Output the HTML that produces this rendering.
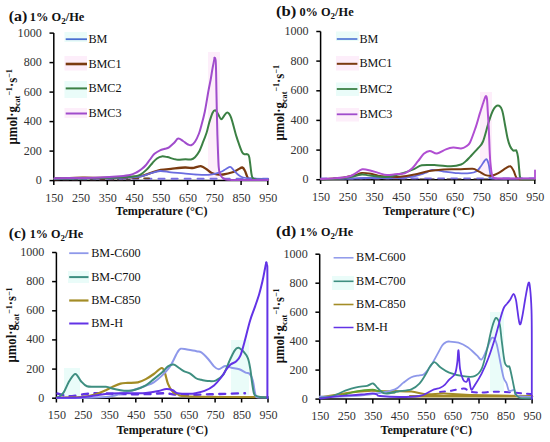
<!DOCTYPE html><html><head><meta charset="utf-8"><style>html,body{margin:0;padding:0;background:#fff;}svg{display:block;}</style></head><body>
<svg width="550" height="442" viewBox="0 0 550 442" font-family='&quot;Liberation Serif&quot;, serif'>
<rect width="550" height="442" fill="#fff"/>
<rect x="64.5" y="32.0" width="22.5" height="10.0" fill="#eafcf9"/>
<rect x="64.5" y="56.0" width="22.5" height="14.5" fill="#fdeefa"/>
<rect x="64.5" y="81.0" width="22.5" height="17.0" fill="#eafcf9"/>
<rect x="64.5" y="108.0" width="22.5" height="10.0" fill="#fdeefa"/>
<rect x="336.0" y="31.5" width="23.0" height="9.5" fill="#eafcf9"/>
<rect x="336.0" y="56.0" width="23.0" height="14.5" fill="#fdeefa"/>
<rect x="336.0" y="82.5" width="23.0" height="13.5" fill="#eafcf9"/>
<rect x="336.0" y="108.0" width="23.0" height="13.5" fill="#fdeefa"/>
<rect x="68.0" y="271.0" width="21.0" height="12.0" fill="#eafcf9"/>
<rect x="332.0" y="276.0" width="22.0" height="14.0" fill="#eafcf9"/>
<rect x="208.0" y="52.0" width="12.0" height="126.0" fill="#fdeefa"/>
<rect x="480.0" y="92.0" width="12.0" height="84.0" fill="#fdeefa"/>
<rect x="64.0" y="368.0" width="16.0" height="28.0" fill="#eafcf9"/>
<rect x="231.0" y="340.0" width="18.0" height="55.0" fill="#eafcf9"/>
<rect x="490.0" y="312.0" width="14.0" height="80.0" fill="#eafcf9"/>
<path d="M53.8,33.1 V181.3" stroke="#000" stroke-width="1.5" fill="none"/>
<path d="M53.1,180.6 H268.5" stroke="#000" stroke-width="1.5" fill="none"/>
<path d="M49.5,180.6 H53.8" stroke="#000" stroke-width="1.5"/>
<text x="41.8" y="184.0" font-size="12.8" text-anchor="end" fill="#333" textLength="6.05" lengthAdjust="spacingAndGlyphs">0</text>
<path d="M49.5,151.1 H53.8" stroke="#000" stroke-width="1.5"/>
<text x="41.8" y="154.5" font-size="12.8" text-anchor="end" fill="#333" textLength="18.15" lengthAdjust="spacingAndGlyphs">200</text>
<path d="M49.5,121.6 H53.8" stroke="#000" stroke-width="1.5"/>
<text x="41.8" y="125.0" font-size="12.8" text-anchor="end" fill="#333" textLength="18.15" lengthAdjust="spacingAndGlyphs">400</text>
<path d="M49.5,92.1 H53.8" stroke="#000" stroke-width="1.5"/>
<text x="41.8" y="95.5" font-size="12.8" text-anchor="end" fill="#333" textLength="18.15" lengthAdjust="spacingAndGlyphs">600</text>
<path d="M49.5,62.6 H53.8" stroke="#000" stroke-width="1.5"/>
<text x="41.8" y="66.0" font-size="12.8" text-anchor="end" fill="#333" textLength="18.15" lengthAdjust="spacingAndGlyphs">800</text>
<path d="M49.5,33.1 H53.8" stroke="#000" stroke-width="1.5"/>
<text x="41.8" y="36.5" font-size="12.8" text-anchor="end" fill="#333" textLength="24.20" lengthAdjust="spacingAndGlyphs">1000</text>
<path d="M53.8,180.6 V184.9" stroke="#000" stroke-width="1.5"/>
<text x="54.3" y="201.8" font-size="12.8" text-anchor="middle" fill="#333" textLength="18.15" lengthAdjust="spacingAndGlyphs">150</text>
<path d="M80.5,180.6 V184.9" stroke="#000" stroke-width="1.5"/>
<text x="81.0" y="201.8" font-size="12.8" text-anchor="middle" fill="#333" textLength="18.15" lengthAdjust="spacingAndGlyphs">250</text>
<path d="M107.3,180.6 V184.9" stroke="#000" stroke-width="1.5"/>
<text x="107.8" y="201.8" font-size="12.8" text-anchor="middle" fill="#333" textLength="18.15" lengthAdjust="spacingAndGlyphs">350</text>
<path d="M134.1,180.6 V184.9" stroke="#000" stroke-width="1.5"/>
<text x="134.6" y="201.8" font-size="12.8" text-anchor="middle" fill="#333" textLength="18.15" lengthAdjust="spacingAndGlyphs">450</text>
<path d="M160.8,180.6 V184.9" stroke="#000" stroke-width="1.5"/>
<text x="161.3" y="201.8" font-size="12.8" text-anchor="middle" fill="#333" textLength="18.15" lengthAdjust="spacingAndGlyphs">550</text>
<path d="M187.6,180.6 V184.9" stroke="#000" stroke-width="1.5"/>
<text x="188.1" y="201.8" font-size="12.8" text-anchor="middle" fill="#333" textLength="18.15" lengthAdjust="spacingAndGlyphs">650</text>
<path d="M214.3,180.6 V184.9" stroke="#000" stroke-width="1.5"/>
<text x="214.8" y="201.8" font-size="12.8" text-anchor="middle" fill="#333" textLength="18.15" lengthAdjust="spacingAndGlyphs">750</text>
<path d="M241.1,180.6 V184.9" stroke="#000" stroke-width="1.5"/>
<text x="241.6" y="201.8" font-size="12.8" text-anchor="middle" fill="#333" textLength="18.15" lengthAdjust="spacingAndGlyphs">850</text>
<path d="M267.8,180.6 V184.9" stroke="#000" stroke-width="1.5"/>
<text x="268.3" y="201.8" font-size="12.8" text-anchor="middle" fill="#333" textLength="18.15" lengthAdjust="spacingAndGlyphs">950</text>
<text x="115.5" y="214.5" font-size="12.5" font-weight="bold" fill="#111" textLength="92.1" lengthAdjust="spacingAndGlyphs">Temperature (°C)</text>
<text transform="translate(16.7,144.4) rotate(-90)" font-size="13.8" font-weight="bold" fill="#111" textLength="75.2" lengthAdjust="spacingAndGlyphs">μmol·g<tspan font-size="8.8" dy="3">cat</tspan><tspan font-size="8.8" dy="-7.8">−1</tspan><tspan dy="4.8">·s</tspan><tspan font-size="8.8" dy="-4.8">−1</tspan></text>
<text x="8.80" y="20.5" font-size="15.2" font-weight="bold" fill="#111" textLength="18.60" lengthAdjust="spacingAndGlyphs">(a)</text>
<text x="29.81" y="20.5" font-size="11.6" font-weight="bold" fill="#111" textLength="54.51" lengthAdjust="spacingAndGlyphs">1% O<tspan font-size="8.5" dy="3.0">2</tspan><tspan dy="-3.0">/He</tspan></text>
<path d="M320.6,31.5 V180.4" stroke="#000" stroke-width="1.5" fill="none"/>
<path d="M319.9,179.7 H535.5" stroke="#000" stroke-width="1.5" fill="none"/>
<path d="M316.3,179.7 H320.6" stroke="#000" stroke-width="1.5"/>
<text x="308.6" y="183.1" font-size="12.8" text-anchor="end" fill="#333" textLength="6.05" lengthAdjust="spacingAndGlyphs">0</text>
<path d="M316.3,150.1 H320.6" stroke="#000" stroke-width="1.5"/>
<text x="308.6" y="153.5" font-size="12.8" text-anchor="end" fill="#333" textLength="18.15" lengthAdjust="spacingAndGlyphs">200</text>
<path d="M316.3,120.4 H320.6" stroke="#000" stroke-width="1.5"/>
<text x="308.6" y="123.8" font-size="12.8" text-anchor="end" fill="#333" textLength="18.15" lengthAdjust="spacingAndGlyphs">400</text>
<path d="M316.3,90.8 H320.6" stroke="#000" stroke-width="1.5"/>
<text x="308.6" y="94.2" font-size="12.8" text-anchor="end" fill="#333" textLength="18.15" lengthAdjust="spacingAndGlyphs">600</text>
<path d="M316.3,61.1 H320.6" stroke="#000" stroke-width="1.5"/>
<text x="308.6" y="64.5" font-size="12.8" text-anchor="end" fill="#333" textLength="18.15" lengthAdjust="spacingAndGlyphs">800</text>
<path d="M316.3,31.5 H320.6" stroke="#000" stroke-width="1.5"/>
<text x="308.6" y="34.9" font-size="12.8" text-anchor="end" fill="#333" textLength="24.20" lengthAdjust="spacingAndGlyphs">1000</text>
<path d="M320.6,179.7 V184.0" stroke="#000" stroke-width="1.5"/>
<text x="321.1" y="201.0" font-size="12.8" text-anchor="middle" fill="#333" textLength="18.15" lengthAdjust="spacingAndGlyphs">150</text>
<path d="M347.4,179.7 V184.0" stroke="#000" stroke-width="1.5"/>
<text x="347.9" y="201.0" font-size="12.8" text-anchor="middle" fill="#333" textLength="18.15" lengthAdjust="spacingAndGlyphs">250</text>
<path d="M374.1,179.7 V184.0" stroke="#000" stroke-width="1.5"/>
<text x="374.6" y="201.0" font-size="12.8" text-anchor="middle" fill="#333" textLength="18.15" lengthAdjust="spacingAndGlyphs">350</text>
<path d="M400.9,179.7 V184.0" stroke="#000" stroke-width="1.5"/>
<text x="401.4" y="201.0" font-size="12.8" text-anchor="middle" fill="#333" textLength="18.15" lengthAdjust="spacingAndGlyphs">450</text>
<path d="M427.7,179.7 V184.0" stroke="#000" stroke-width="1.5"/>
<text x="428.2" y="201.0" font-size="12.8" text-anchor="middle" fill="#333" textLength="18.15" lengthAdjust="spacingAndGlyphs">550</text>
<path d="M454.5,179.7 V184.0" stroke="#000" stroke-width="1.5"/>
<text x="455.0" y="201.0" font-size="12.8" text-anchor="middle" fill="#333" textLength="18.15" lengthAdjust="spacingAndGlyphs">650</text>
<path d="M481.2,179.7 V184.0" stroke="#000" stroke-width="1.5"/>
<text x="481.8" y="201.0" font-size="12.8" text-anchor="middle" fill="#333" textLength="18.15" lengthAdjust="spacingAndGlyphs">750</text>
<path d="M508.0,179.7 V184.0" stroke="#000" stroke-width="1.5"/>
<text x="508.5" y="201.0" font-size="12.8" text-anchor="middle" fill="#333" textLength="18.15" lengthAdjust="spacingAndGlyphs">850</text>
<path d="M534.8,179.7 V184.0" stroke="#000" stroke-width="1.5"/>
<text x="535.3" y="201.0" font-size="12.8" text-anchor="middle" fill="#333" textLength="18.15" lengthAdjust="spacingAndGlyphs">950</text>
<text x="383.0" y="214.6" font-size="12.5" font-weight="bold" fill="#111" textLength="91.4" lengthAdjust="spacingAndGlyphs">Temperature (°C)</text>
<text transform="translate(283.5,140.4) rotate(-90)" font-size="13.8" font-weight="bold" fill="#111" textLength="75.4" lengthAdjust="spacingAndGlyphs">μmol·g<tspan font-size="8.8" dy="3">cat</tspan><tspan font-size="8.8" dy="-7.8">−1</tspan><tspan dy="4.8">·s</tspan><tspan font-size="8.8" dy="-4.8">−1</tspan></text>
<text x="275.97" y="16.3" font-size="15.2" font-weight="bold" fill="#111" textLength="20.37" lengthAdjust="spacingAndGlyphs">(b)</text>
<text x="299.41" y="16.1" font-size="11.6" font-weight="bold" fill="#111" textLength="54.21" lengthAdjust="spacingAndGlyphs">0% O<tspan font-size="8.5" dy="3.0">2</tspan><tspan dy="-3.0">/He</tspan></text>
<path d="M56.4,252.5 V398.9" stroke="#000" stroke-width="1.5" fill="none"/>
<path d="M55.7,398.2 H268.7" stroke="#000" stroke-width="1.5" fill="none"/>
<path d="M52.1,398.2 H56.4" stroke="#000" stroke-width="1.5"/>
<text x="44.4" y="401.6" font-size="12.8" text-anchor="end" fill="#333" textLength="6.05" lengthAdjust="spacingAndGlyphs">0</text>
<path d="M52.1,369.1 H56.4" stroke="#000" stroke-width="1.5"/>
<text x="44.4" y="372.5" font-size="12.8" text-anchor="end" fill="#333" textLength="18.15" lengthAdjust="spacingAndGlyphs">200</text>
<path d="M52.1,339.9 H56.4" stroke="#000" stroke-width="1.5"/>
<text x="44.4" y="343.3" font-size="12.8" text-anchor="end" fill="#333" textLength="18.15" lengthAdjust="spacingAndGlyphs">400</text>
<path d="M52.1,310.8 H56.4" stroke="#000" stroke-width="1.5"/>
<text x="44.4" y="314.2" font-size="12.8" text-anchor="end" fill="#333" textLength="18.15" lengthAdjust="spacingAndGlyphs">600</text>
<path d="M52.1,281.6 H56.4" stroke="#000" stroke-width="1.5"/>
<text x="44.4" y="285.0" font-size="12.8" text-anchor="end" fill="#333" textLength="18.15" lengthAdjust="spacingAndGlyphs">800</text>
<path d="M52.1,252.5 H56.4" stroke="#000" stroke-width="1.5"/>
<text x="44.4" y="255.9" font-size="12.8" text-anchor="end" fill="#333" textLength="24.20" lengthAdjust="spacingAndGlyphs">1000</text>
<path d="M56.4,398.2 V402.5" stroke="#000" stroke-width="1.5"/>
<text x="56.9" y="419.3" font-size="12.8" text-anchor="middle" fill="#333" textLength="18.15" lengthAdjust="spacingAndGlyphs">150</text>
<path d="M82.8,398.2 V402.5" stroke="#000" stroke-width="1.5"/>
<text x="83.3" y="419.3" font-size="12.8" text-anchor="middle" fill="#333" textLength="18.15" lengthAdjust="spacingAndGlyphs">250</text>
<path d="M109.3,398.2 V402.5" stroke="#000" stroke-width="1.5"/>
<text x="109.8" y="419.3" font-size="12.8" text-anchor="middle" fill="#333" textLength="18.15" lengthAdjust="spacingAndGlyphs">350</text>
<path d="M135.8,398.2 V402.5" stroke="#000" stroke-width="1.5"/>
<text x="136.2" y="419.3" font-size="12.8" text-anchor="middle" fill="#333" textLength="18.15" lengthAdjust="spacingAndGlyphs">450</text>
<path d="M162.2,398.2 V402.5" stroke="#000" stroke-width="1.5"/>
<text x="162.7" y="419.3" font-size="12.8" text-anchor="middle" fill="#333" textLength="18.15" lengthAdjust="spacingAndGlyphs">550</text>
<path d="M188.7,398.2 V402.5" stroke="#000" stroke-width="1.5"/>
<text x="189.2" y="419.3" font-size="12.8" text-anchor="middle" fill="#333" textLength="18.15" lengthAdjust="spacingAndGlyphs">650</text>
<path d="M215.1,398.2 V402.5" stroke="#000" stroke-width="1.5"/>
<text x="215.6" y="419.3" font-size="12.8" text-anchor="middle" fill="#333" textLength="18.15" lengthAdjust="spacingAndGlyphs">750</text>
<path d="M241.6,398.2 V402.5" stroke="#000" stroke-width="1.5"/>
<text x="242.1" y="419.3" font-size="12.8" text-anchor="middle" fill="#333" textLength="18.15" lengthAdjust="spacingAndGlyphs">850</text>
<path d="M268.0,398.2 V402.5" stroke="#000" stroke-width="1.5"/>
<text x="268.5" y="419.3" font-size="12.8" text-anchor="middle" fill="#333" textLength="18.15" lengthAdjust="spacingAndGlyphs">950</text>
<text x="116.4" y="434.2" font-size="12.5" font-weight="bold" fill="#111" textLength="91.6" lengthAdjust="spacingAndGlyphs">Temperature (°C)</text>
<text transform="translate(16.4,362.4) rotate(-90)" font-size="13.8" font-weight="bold" fill="#111" textLength="75.0" lengthAdjust="spacingAndGlyphs">μmol·g<tspan font-size="8.8" dy="3">cat</tspan><tspan font-size="8.8" dy="-7.8">−1</tspan><tspan dy="4.8">·s</tspan><tspan font-size="8.8" dy="-4.8">−1</tspan></text>
<text x="8.71" y="238.1" font-size="15.2" font-weight="bold" fill="#111" textLength="17.38" lengthAdjust="spacingAndGlyphs">(c)</text>
<text x="29.73" y="238.0" font-size="11.6" font-weight="bold" fill="#111" textLength="53.49" lengthAdjust="spacingAndGlyphs">1% O<tspan font-size="8.5" dy="3.0">2</tspan><tspan dy="-3.0">/He</tspan></text>
<path d="M319.7,254.2 V399.8" stroke="#000" stroke-width="1.5" fill="none"/>
<path d="M319.0,399.1 H532.8" stroke="#000" stroke-width="1.5" fill="none"/>
<path d="M315.4,399.1 H319.7" stroke="#000" stroke-width="1.5"/>
<text x="307.7" y="402.5" font-size="12.8" text-anchor="end" fill="#333" textLength="6.05" lengthAdjust="spacingAndGlyphs">0</text>
<path d="M315.4,370.1 H319.7" stroke="#000" stroke-width="1.5"/>
<text x="307.7" y="373.5" font-size="12.8" text-anchor="end" fill="#333" textLength="18.15" lengthAdjust="spacingAndGlyphs">200</text>
<path d="M315.4,341.1 H319.7" stroke="#000" stroke-width="1.5"/>
<text x="307.7" y="344.5" font-size="12.8" text-anchor="end" fill="#333" textLength="18.15" lengthAdjust="spacingAndGlyphs">400</text>
<path d="M315.4,312.2 H319.7" stroke="#000" stroke-width="1.5"/>
<text x="307.7" y="315.6" font-size="12.8" text-anchor="end" fill="#333" textLength="18.15" lengthAdjust="spacingAndGlyphs">600</text>
<path d="M315.4,283.2 H319.7" stroke="#000" stroke-width="1.5"/>
<text x="307.7" y="286.6" font-size="12.8" text-anchor="end" fill="#333" textLength="18.15" lengthAdjust="spacingAndGlyphs">800</text>
<path d="M315.4,254.2 H319.7" stroke="#000" stroke-width="1.5"/>
<text x="307.7" y="257.6" font-size="12.8" text-anchor="end" fill="#333" textLength="24.20" lengthAdjust="spacingAndGlyphs">1000</text>
<path d="M319.7,399.1 V403.4" stroke="#000" stroke-width="1.5"/>
<text x="320.2" y="420.1" font-size="12.8" text-anchor="middle" fill="#333" textLength="18.15" lengthAdjust="spacingAndGlyphs">150</text>
<path d="M346.2,399.1 V403.4" stroke="#000" stroke-width="1.5"/>
<text x="346.8" y="420.1" font-size="12.8" text-anchor="middle" fill="#333" textLength="18.15" lengthAdjust="spacingAndGlyphs">250</text>
<path d="M372.8,399.1 V403.4" stroke="#000" stroke-width="1.5"/>
<text x="373.3" y="420.1" font-size="12.8" text-anchor="middle" fill="#333" textLength="18.15" lengthAdjust="spacingAndGlyphs">350</text>
<path d="M399.4,399.1 V403.4" stroke="#000" stroke-width="1.5"/>
<text x="399.9" y="420.1" font-size="12.8" text-anchor="middle" fill="#333" textLength="18.15" lengthAdjust="spacingAndGlyphs">450</text>
<path d="M425.9,399.1 V403.4" stroke="#000" stroke-width="1.5"/>
<text x="426.4" y="420.1" font-size="12.8" text-anchor="middle" fill="#333" textLength="18.15" lengthAdjust="spacingAndGlyphs">550</text>
<path d="M452.5,399.1 V403.4" stroke="#000" stroke-width="1.5"/>
<text x="453.0" y="420.1" font-size="12.8" text-anchor="middle" fill="#333" textLength="18.15" lengthAdjust="spacingAndGlyphs">650</text>
<path d="M479.0,399.1 V403.4" stroke="#000" stroke-width="1.5"/>
<text x="479.5" y="420.1" font-size="12.8" text-anchor="middle" fill="#333" textLength="18.15" lengthAdjust="spacingAndGlyphs">750</text>
<path d="M505.6,399.1 V403.4" stroke="#000" stroke-width="1.5"/>
<text x="506.1" y="420.1" font-size="12.8" text-anchor="middle" fill="#333" textLength="18.15" lengthAdjust="spacingAndGlyphs">850</text>
<path d="M532.1,399.1 V403.4" stroke="#000" stroke-width="1.5"/>
<text x="532.6" y="420.1" font-size="12.8" text-anchor="middle" fill="#333" textLength="18.15" lengthAdjust="spacingAndGlyphs">950</text>
<text x="380.5" y="434.2" font-size="12.5" font-weight="bold" fill="#111" textLength="91.6" lengthAdjust="spacingAndGlyphs">Temperature (°C)</text>
<text transform="translate(283.7,363.2) rotate(-90)" font-size="13.8" font-weight="bold" fill="#111" textLength="74.8" lengthAdjust="spacingAndGlyphs">μmol·g<tspan font-size="8.8" dy="3">cat</tspan><tspan font-size="8.8" dy="-7.8">−1</tspan><tspan dy="4.8">·s</tspan><tspan font-size="8.8" dy="-4.8">−1</tspan></text>
<text x="275.97" y="236.1" font-size="15.2" font-weight="bold" fill="#111" textLength="20.15" lengthAdjust="spacingAndGlyphs">(d)</text>
<text x="299.73" y="236.0" font-size="11.6" font-weight="bold" fill="#111" textLength="53.49" lengthAdjust="spacingAndGlyphs">1% O<tspan font-size="8.5" dy="3.0">2</tspan><tspan dy="-3.0">/He</tspan></text>
<path d="M65.7,39.2 H87.0" stroke="#4a6fd2" stroke-width="1.8"/>
<text x="88.4" y="42.8" font-size="12.7" fill="#111" textLength="18.99" lengthAdjust="spacingAndGlyphs">BM</text>
<path d="M65.7,64.0 H87.0" stroke="#7a3a10" stroke-width="2.6"/>
<text x="88.4" y="67.6" font-size="12.7" fill="#111" textLength="33.22" lengthAdjust="spacingAndGlyphs">BMC1</text>
<path d="M65.7,88.4 H87.0" stroke="#3b8044" stroke-width="2.0"/>
<text x="88.4" y="92.0" font-size="12.7" fill="#111" textLength="33.22" lengthAdjust="spacingAndGlyphs">BMC2</text>
<path d="M65.7,113.5 H87.0" stroke="#a04ccc" stroke-width="2.0"/>
<text x="88.4" y="117.1" font-size="12.7" fill="#111" textLength="33.22" lengthAdjust="spacingAndGlyphs">BMC3</text>
<path d="M336.8,39.0 H357.4" stroke="#4a6fd2" stroke-width="1.6"/>
<text x="359.4" y="42.6" font-size="12.7" fill="#111" textLength="18.83" lengthAdjust="spacingAndGlyphs">BM</text>
<path d="M336.8,63.8 H357.4" stroke="#7a3a10" stroke-width="2.0"/>
<text x="359.4" y="67.4" font-size="12.7" fill="#111" textLength="32.95" lengthAdjust="spacingAndGlyphs">BMC1</text>
<path d="M336.8,89.0 H357.4" stroke="#3b8044" stroke-width="1.8"/>
<text x="359.4" y="92.6" font-size="12.7" fill="#111" textLength="32.95" lengthAdjust="spacingAndGlyphs">BMC2</text>
<path d="M336.8,114.3 H357.4" stroke="#a04ccc" stroke-width="1.8"/>
<text x="359.4" y="117.9" font-size="12.7" fill="#111" textLength="32.95" lengthAdjust="spacingAndGlyphs">BMC3</text>
<path d="M69.2,253.2 H88.5" stroke="#8e98ea" stroke-width="1.8"/>
<text x="91.2" y="256.8" font-size="12.7" fill="#111" textLength="49.49" lengthAdjust="spacingAndGlyphs">BM-C600</text>
<path d="M69.2,277.1 H88.5" stroke="#3e8e80" stroke-width="2.0"/>
<text x="91.2" y="280.7" font-size="12.7" fill="#111" textLength="49.49" lengthAdjust="spacingAndGlyphs">BM-C700</text>
<path d="M69.2,300.5 H88.5" stroke="#a38c26" stroke-width="2.2"/>
<text x="91.2" y="304.1" font-size="12.7" fill="#111" textLength="49.49" lengthAdjust="spacingAndGlyphs">BM-C850</text>
<path d="M69.2,323.5 H88.5" stroke="#6233e6" stroke-width="2.0"/>
<text x="91.2" y="327.1" font-size="12.7" fill="#111" textLength="31.86" lengthAdjust="spacingAndGlyphs">BM-H</text>
<path d="M333.6,257.8 H353.5" stroke="#8e98ea" stroke-width="1.5"/>
<text x="356.0" y="261.4" font-size="12.7" fill="#111" textLength="49.49" lengthAdjust="spacingAndGlyphs">BM-C600</text>
<path d="M333.6,281.3 H353.5" stroke="#3e8e80" stroke-width="1.6"/>
<text x="356.0" y="284.9" font-size="12.7" fill="#111" textLength="49.49" lengthAdjust="spacingAndGlyphs">BM-C700</text>
<path d="M333.6,304.5 H353.5" stroke="#a38c26" stroke-width="1.6"/>
<text x="356.0" y="308.1" font-size="12.7" fill="#111" textLength="49.49" lengthAdjust="spacingAndGlyphs">BM-C850</text>
<path d="M333.6,327.5 H353.5" stroke="#6233e6" stroke-width="1.5"/>
<text x="356.0" y="331.1" font-size="12.7" fill="#111" textLength="31.86" lengthAdjust="spacingAndGlyphs">BM-H</text>
<path d="M54.5,180.0 C67.1,180.0 117.4,180.0 130.0,180.0" stroke="#2a1a20" stroke-width="1.6" fill="none" stroke-linejoin="round" stroke-linecap="round" stroke-dasharray="5 4" opacity="1.00"/>
<path d="M54.5,178.8 C90.1,178.8 232.4,178.8 268.0,178.8" stroke="#7a6ee0" stroke-width="2.0" fill="none" stroke-linejoin="round" stroke-linecap="round" stroke-dasharray="6 7" opacity="1.00"/>
<path d="M56.0,178.3 C71.7,178.3 134.3,178.3 150.0,178.3" stroke="#6a4a28" stroke-width="1.8" fill="none" stroke-linejoin="round" stroke-linecap="round" stroke-dasharray="5 6" opacity="1.00"/>
<path d="M54.5,179.0 C59.2,178.8 74.9,177.8 82.5,177.6 C90.1,177.4 93.8,178.0 100.0,178.0 C106.2,178.0 113.5,177.8 120.0,177.6 C126.5,177.3 133.7,177.3 139.0,176.5 C144.3,175.7 148.2,173.7 151.8,172.6 C155.4,171.5 157.5,170.6 160.7,170.0 C163.9,169.4 166.9,169.2 171.0,168.8 C175.1,168.4 181.4,167.6 185.0,167.5 C188.6,167.4 190.6,168.1 192.6,168.0 C194.6,167.9 195.5,167.1 197.0,166.8 C198.5,166.5 199.9,165.9 201.5,166.3 C203.1,166.7 204.9,168.2 206.6,169.3 C208.3,170.4 210.0,172.2 211.7,173.0 C213.4,173.8 215.1,174.1 217.0,174.3 C218.9,174.6 220.5,174.9 223.2,174.5 C225.9,174.1 230.9,172.8 233.4,172.0 C235.9,171.2 236.5,170.2 238.0,169.5 C239.5,168.8 241.2,167.3 242.3,167.5 C243.4,167.7 244.0,168.9 244.8,170.5 C245.7,172.1 246.5,175.6 247.4,177.0 C248.3,178.4 246.6,178.6 250.0,179.0 C253.4,179.4 265.0,179.5 268.0,179.6" stroke="#7a3a10" stroke-width="2.3" fill="none" stroke-linejoin="round" stroke-linecap="round" opacity="1.00"/>
<path d="M54.5,179.0 C65.4,178.8 105.8,178.2 120.0,177.8 C134.2,177.4 135.0,177.2 140.0,176.5 C145.0,175.8 146.7,174.4 150.0,173.5 C153.3,172.6 156.5,171.2 160.0,171.0 C163.5,170.8 167.1,171.9 171.0,172.3 C174.9,172.7 179.2,172.9 183.6,173.3 C188.0,173.7 193.2,174.4 197.7,174.6 C202.2,174.8 206.7,175.0 210.5,174.6 C214.3,174.2 218.0,172.9 220.6,172.0 C223.2,171.1 224.4,169.8 226.0,169.0 C227.6,168.2 229.0,166.8 230.2,166.9 C231.4,167.0 232.0,168.5 233.4,169.8 C234.8,171.2 236.9,173.7 238.5,175.0 C240.1,176.3 241.1,176.9 243.0,177.5 C244.9,178.1 245.8,178.2 250.0,178.5 C254.2,178.8 265.0,178.9 268.0,179.0" stroke="#6a6ce0" stroke-width="1.8" fill="none" stroke-linejoin="round" stroke-linecap="round" opacity="1.00"/>
<path d="M54.5,178.5 C62.1,178.4 87.4,178.3 100.0,178.0 C112.6,177.7 123.3,177.3 130.0,176.8 C136.7,176.3 137.1,176.1 140.0,174.8 C142.9,173.5 145.2,171.0 147.3,169.0 C149.4,167.0 151.1,164.4 152.7,162.7 C154.3,160.9 155.5,159.6 157.0,158.5 C158.5,157.4 160.1,156.6 161.8,156.4 C163.5,156.2 164.9,156.6 167.3,157.1 C169.7,157.6 173.4,159.2 176.4,159.6 C179.4,159.9 183.1,159.2 185.5,159.2 C187.9,159.2 189.4,159.8 191.0,159.5 C192.6,159.2 193.7,158.5 195.0,157.2 C196.3,155.9 197.7,154.2 199.0,151.8 C200.3,149.4 201.6,145.8 202.8,142.7 C204.1,139.6 205.4,136.3 206.5,133.0 C207.6,129.7 208.2,126.0 209.2,122.7 C210.2,119.4 211.5,115.1 212.5,113.0 C213.5,110.9 214.3,110.0 215.2,110.2 C216.1,110.4 217.0,112.5 218.0,114.0 C219.0,115.5 220.2,118.9 221.2,119.2 C222.2,119.5 223.0,117.1 224.0,116.0 C225.0,114.9 226.0,112.2 227.2,112.4 C228.4,112.6 229.6,113.6 231.0,117.3 C232.4,121.0 234.7,130.5 235.9,134.7 C237.2,138.9 237.4,139.7 238.5,142.7 C239.6,145.7 241.2,150.6 242.3,152.5 C243.4,154.4 244.2,154.0 245.0,154.3 C245.8,154.6 246.7,153.7 247.4,154.2 C248.1,154.7 248.7,154.4 249.3,157.4 C249.9,160.4 250.7,168.6 251.2,172.0 C251.7,175.4 251.7,176.4 252.5,177.7 C253.3,178.9 253.4,179.1 256.0,179.5 C258.6,179.9 266.0,179.9 268.0,180.0" stroke="#3b8044" stroke-width="2.0" fill="none" stroke-linejoin="round" stroke-linecap="round" opacity="1.00"/>
<path d="M54.5,178.3 C58.8,178.2 72.4,178.1 80.0,178.0 C87.6,177.9 93.3,177.8 100.0,177.5 C106.7,177.2 115.0,176.6 120.0,176.2 C125.0,175.8 127.3,175.6 130.0,175.0 C132.7,174.4 134.6,173.4 136.4,172.5 C138.2,171.6 139.5,170.7 141.0,169.5 C142.5,168.3 144.0,167.2 145.5,165.5 C147.0,163.8 148.5,161.4 150.0,159.5 C151.5,157.6 152.8,155.3 154.5,153.8 C156.2,152.3 158.2,151.1 160.0,150.3 C161.8,149.5 163.5,149.3 165.0,148.8 C166.5,148.3 167.5,148.3 169.0,147.3 C170.5,146.3 172.5,144.4 174.0,143.0 C175.5,141.6 176.7,138.9 178.2,138.6 C179.7,138.3 181.4,140.0 183.0,141.0 C184.6,142.0 186.6,143.8 188.0,144.5 C189.4,145.2 190.0,145.6 191.2,145.2 C192.4,144.8 193.7,143.8 195.0,141.8 C196.3,139.9 197.9,136.3 199.0,133.5 C200.1,130.7 200.5,128.6 201.5,125.0 C202.5,121.4 203.6,117.6 204.8,111.8 C206.0,106.0 207.6,95.3 208.6,90.0 C209.6,84.7 209.9,83.7 210.6,80.0 C211.3,76.3 211.9,71.7 212.6,68.0 C213.3,64.3 214.3,59.5 214.6,57.8" stroke="#a04ccc" stroke-width="2.0" fill="none" stroke-linejoin="round" stroke-linecap="round" opacity="1.00"/>
<path d="M214.6,57.8 C214.8,58.2 215.3,57.6 215.6,60.0 C215.8,62.4 216.0,67.0 216.1,72.0 C216.2,77.0 216.3,83.7 216.4,90.0 C216.5,96.3 216.6,102.5 216.8,110.0 C217.0,117.5 217.2,128.0 217.4,135.0 C217.6,142.0 217.8,146.7 218.0,152.0 C218.2,157.3 218.4,163.3 218.7,167.0 C219.0,170.7 219.4,172.3 220.0,174.0 C220.6,175.7 221.0,176.4 222.0,177.3 C223.0,178.2 223.7,179.0 226.0,179.4 C228.3,179.8 229.0,179.8 236.0,179.9 C243.0,180.0 262.7,179.9 268.0,179.9" stroke="#a04ccc" stroke-width="2.0" fill="none" stroke-linejoin="round" stroke-linecap="round" opacity="1.00"/>
<path d="M321.0,179.2 C356.5,179.2 498.5,179.2 534.0,179.2" stroke="#2a1a20" stroke-width="1.4" fill="none" stroke-linejoin="round" stroke-linecap="round" stroke-dasharray="5 4" opacity="1.00"/>
<path d="M321.0,178.3 C356.5,178.3 498.5,178.3 534.0,178.3" stroke="#7a6ee0" stroke-width="1.8" fill="none" stroke-linejoin="round" stroke-linecap="round" stroke-dasharray="6 7" opacity="1.00"/>
<path d="M321.0,179.3 C325.8,179.2 342.7,178.7 350.0,178.5 C357.3,178.3 358.3,178.1 365.0,178.0 C371.7,177.9 382.5,178.2 390.0,178.0 C397.5,177.8 404.2,177.8 410.0,177.0 C415.8,176.2 421.3,174.2 425.0,173.0 C428.7,171.8 428.9,170.1 432.0,169.8 C435.1,169.6 439.2,170.9 443.6,171.5 C448.0,172.1 453.8,172.9 458.2,173.2 C462.6,173.5 466.7,173.5 469.8,173.2 C472.9,172.9 474.8,172.4 476.6,171.3 C478.4,170.2 479.2,168.5 480.5,166.8 C481.8,165.1 483.3,162.4 484.3,161.1 C485.3,159.8 485.9,158.7 486.6,159.2 C487.3,159.7 488.0,161.6 488.7,164.3 C489.4,167.0 489.9,173.2 490.6,175.5 C491.3,177.8 485.8,177.8 493.0,178.3 C500.2,178.8 527.2,178.6 534.0,178.6" stroke="#6a6ce0" stroke-width="1.8" fill="none" stroke-linejoin="round" stroke-linecap="round" opacity="1.00"/>
<path d="M321.0,179.3 C324.2,179.1 334.3,178.7 340.0,178.0 C345.7,177.3 351.3,175.8 355.0,175.0 C358.7,174.2 359.2,173.1 362.0,172.9 C364.8,172.7 369.0,173.5 372.0,174.0 C375.0,174.5 377.0,175.6 380.0,176.0 C383.0,176.4 386.7,176.5 390.0,176.6 C393.3,176.7 395.9,177.1 400.0,176.8 C404.1,176.5 409.6,175.6 414.5,174.6 C419.4,173.6 424.2,171.8 429.1,171.0 C434.0,170.2 438.8,169.8 443.6,169.5 C448.5,169.2 453.4,169.4 458.2,169.3 C463.0,169.2 469.5,168.6 472.7,168.8 C475.9,169.0 475.8,170.0 477.1,170.6 C478.4,171.2 479.1,171.6 480.5,172.3 C481.9,173.1 483.6,174.5 485.5,175.1 C487.4,175.7 489.8,176.0 491.9,175.7 C494.0,175.4 496.0,174.5 498.3,173.2 C500.6,171.9 503.9,169.3 505.9,168.1 C507.9,166.9 509.1,165.8 510.4,166.2 C511.7,166.6 512.5,168.8 513.5,170.6 C514.5,172.4 515.2,175.6 516.1,177.0 C517.0,178.4 515.6,178.5 518.6,178.9 C521.6,179.3 531.4,179.2 534.0,179.3" stroke="#7a3a10" stroke-width="2.0" fill="none" stroke-linejoin="round" stroke-linecap="round" opacity="1.00"/>
<path d="M321.0,179.3 C324.2,179.2 334.3,179.1 340.0,178.5 C345.7,177.9 351.3,176.7 355.0,176.0 C358.7,175.3 359.5,174.5 362.0,174.4 C364.5,174.3 366.2,175.1 370.0,175.5 C373.8,175.9 380.0,177.2 385.0,177.0 C390.0,176.8 395.1,175.4 400.0,174.0 C404.9,172.6 410.9,170.3 414.5,168.8 C418.1,167.3 418.2,165.8 421.8,165.2 C425.4,164.6 431.5,165.0 436.4,165.2 C441.2,165.4 446.8,166.4 450.9,166.3 C455.0,166.2 458.6,165.4 461.1,164.5 C463.6,163.6 464.5,162.3 466.0,161.0 C467.5,159.7 468.3,158.7 470.3,156.6 C472.3,154.5 475.8,150.9 477.9,148.4 C480.0,145.9 481.2,145.9 483.0,141.5 C484.8,137.1 487.1,127.0 488.8,121.8 C490.5,116.5 491.7,112.7 493.2,110.0 C494.7,107.3 496.4,105.6 497.9,105.6 C499.4,105.6 500.8,106.8 502.0,110.0 C503.2,113.2 504.1,120.0 505.0,124.7 C505.9,129.4 506.7,134.4 507.5,138.0 C508.3,141.6 509.1,143.9 510.0,146.0 C510.9,148.1 512.1,149.6 512.9,150.3 C513.7,151.1 514.4,150.4 515.0,150.5 C515.6,150.6 516.0,149.7 516.5,150.8 C517.0,151.9 517.5,153.7 518.0,157.0 C518.5,160.3 518.9,167.0 519.3,170.6 C519.7,174.2 519.5,177.1 520.5,178.5 C521.5,179.9 522.8,179.1 525.0,179.2 C527.2,179.3 532.5,179.2 534.0,179.2" stroke="#3b8044" stroke-width="2.0" fill="none" stroke-linejoin="round" stroke-linecap="round" opacity="1.00"/>
<path d="M321.0,179.0 C323.3,178.9 330.3,178.7 335.0,178.3 C339.7,177.9 345.7,177.3 349.0,176.5 C352.3,175.7 352.8,174.8 355.0,173.6 C357.2,172.4 359.5,169.8 362.2,169.3 C364.9,168.8 368.3,170.1 371.0,170.7 C373.7,171.3 375.6,172.2 378.2,172.9 C380.8,173.6 384.1,174.9 386.9,175.1 C389.7,175.3 392.0,174.5 395.0,174.2 C398.0,173.9 401.9,174.1 404.7,173.2 C407.5,172.2 409.8,170.5 412.0,168.5 C414.2,166.5 416.0,163.6 418.0,161.2 C420.0,158.8 421.9,155.5 423.8,153.8 C425.8,152.1 427.5,151.0 429.7,150.9 C431.9,150.8 434.3,153.8 437.0,153.5 C439.7,153.2 443.2,150.4 445.9,149.4 C448.6,148.4 450.7,147.8 453.2,147.6 C455.7,147.4 458.9,148.6 461.0,148.4 C463.1,148.2 464.5,147.5 466.0,146.5 C467.5,145.5 468.4,145.7 470.0,142.5 C471.6,139.3 473.9,132.5 475.6,127.6 C477.3,122.7 478.7,117.0 480.0,112.9 C481.3,108.8 482.3,105.6 483.2,103.0 C484.1,100.4 484.7,98.3 485.2,97.2 C485.7,96.1 485.9,95.9 486.2,96.2 C486.5,96.5 486.7,96.4 487.0,99.0 C487.3,101.6 487.5,107.0 487.8,112.0 C488.1,117.0 488.5,122.8 488.8,129.1 C489.1,135.4 489.4,144.2 489.6,149.7 C489.9,155.2 489.9,157.9 490.3,162.0 C490.7,166.1 491.3,171.8 491.9,174.5 C492.5,177.2 492.6,177.3 494.0,178.0 C495.4,178.7 493.2,178.4 500.0,178.5 C506.8,178.6 528.8,178.5 534.5,178.5" stroke="#b04ed2" stroke-width="2.0" fill="none" stroke-linejoin="round" stroke-linecap="round" opacity="1.00"/>
<path d="M535.0,178.5 C535.0,177.2 535.0,171.8 535.0,170.5" stroke="#b04ed2" stroke-width="1.8" fill="none" stroke-linejoin="round" stroke-linecap="round" opacity="1.00"/>
<path d="M57.5,393.5 C58.6,393.8 61.6,394.9 64.0,395.3 C66.4,395.8 69.0,396.3 72.0,396.2 C75.0,396.1 78.2,395.0 82.0,394.5 C85.8,394.0 90.3,393.3 95.0,393.2 C99.7,393.1 104.2,393.4 110.0,393.6 C115.8,393.8 123.3,394.1 130.0,394.2 C136.7,394.3 144.2,394.2 150.0,394.0 C155.8,393.8 160.8,393.1 165.0,393.2 C169.2,393.3 170.8,394.3 175.0,394.6 C179.2,394.9 185.0,395.0 190.0,395.0 C195.0,395.0 200.0,394.6 205.0,394.4 C210.0,394.2 213.3,394.2 220.0,394.0 C226.7,393.8 240.8,393.3 245.0,393.2" stroke="#6233e6" stroke-width="2.4" fill="none" stroke-linejoin="round" stroke-linecap="round" stroke-dasharray="6 6.5" opacity="1.00"/>
<path d="M57.0,397.6 C60.8,397.5 73.7,397.7 80.0,397.2 C86.3,396.7 90.7,395.7 95.0,394.5 C99.3,393.3 102.9,391.5 105.9,390.2 C108.9,388.9 110.8,387.6 113.2,386.5 C115.6,385.4 118.1,384.2 120.5,383.6 C122.9,383.0 124.8,383.1 127.7,382.9 C130.6,382.7 134.9,382.9 137.9,382.3 C140.9,381.7 143.2,380.5 145.8,379.1 C148.5,377.7 151.2,375.9 153.8,374.0 C156.5,372.1 159.9,368.2 161.7,368.0 C163.5,367.8 163.8,370.2 164.8,372.8 C165.9,375.4 166.7,380.6 168.0,383.8 C169.3,387.0 171.2,390.1 172.8,391.8 C174.4,393.5 174.6,393.3 177.5,394.1 C180.4,394.9 174.9,396.0 190.0,396.5 C205.1,397.0 255.0,397.1 268.0,397.2" stroke="#a38c26" stroke-width="2.2" fill="none" stroke-linejoin="round" stroke-linecap="round" opacity="1.00"/>
<path d="M57.0,398.0 C62.5,398.0 81.2,398.1 90.0,397.8 C98.8,397.6 104.2,397.4 110.0,396.5 C115.8,395.6 120.8,393.7 125.0,392.5 C129.2,391.3 131.7,390.6 135.0,389.5 C138.3,388.4 141.9,387.2 145.0,386.0 C148.1,384.8 151.0,384.0 153.8,382.3 C156.6,380.6 159.1,378.4 161.7,375.9 C164.3,373.4 167.5,370.1 169.6,367.2 C171.7,364.3 173.0,361.0 174.3,358.5 C175.6,356.0 176.4,353.8 177.5,352.2 C178.6,350.6 179.1,349.1 180.7,348.7 C182.3,348.3 184.4,349.2 187.0,349.6 C189.6,350.0 194.1,350.7 196.5,351.2 C198.9,351.7 199.4,351.2 201.3,352.4 C203.2,353.6 205.6,356.2 207.7,358.5 C209.8,360.8 212.2,364.6 214.0,366.4 C215.8,368.2 216.8,369.2 218.7,369.2 C220.5,369.1 223.0,366.4 225.1,366.1 C227.2,365.9 229.0,367.2 231.4,367.7 C233.8,368.2 236.9,368.4 239.3,369.2 C241.7,370.0 243.9,371.9 245.6,372.7 C247.3,373.5 248.4,372.5 249.6,373.8 C250.8,375.1 251.9,377.4 252.8,380.6 C253.7,383.9 254.4,390.5 255.1,393.3 C255.8,396.1 254.8,396.5 257.0,397.2 C259.1,397.9 266.2,397.4 268.0,397.5" stroke="#8e98ea" stroke-width="2.0" fill="none" stroke-linejoin="round" stroke-linecap="round" opacity="1.00"/>
<path d="M57.0,397.8 C57.5,397.5 58.9,396.9 60.0,396.0 C61.1,395.1 62.1,394.9 63.7,392.4 C65.3,389.8 67.5,383.8 69.5,380.7 C71.5,377.6 73.5,373.8 75.4,373.9 C77.4,374.0 79.3,379.4 81.2,381.5 C83.1,383.6 84.6,385.4 87.0,386.3 C89.4,387.2 92.5,386.7 95.7,386.8 C98.9,386.9 103.0,386.5 105.9,386.8 C108.8,387.1 110.8,388.1 113.2,388.7 C115.6,389.3 118.1,389.8 120.5,390.2 C122.9,390.6 125.3,390.9 127.7,390.8 C130.1,390.7 132.0,390.7 135.0,389.8 C138.0,388.9 142.7,387.2 145.8,385.4 C148.9,383.6 151.2,381.2 153.8,379.1 C156.5,377.0 159.3,374.9 161.7,372.8 C164.1,370.7 166.0,367.8 168.0,366.4 C170.0,365.0 171.8,364.2 173.6,364.5 C175.4,364.8 177.4,366.9 179.1,368.0 C180.8,369.1 182.0,370.3 183.8,371.2 C185.7,372.1 188.1,372.4 190.2,373.6 C192.3,374.8 194.7,377.5 196.5,378.5 C198.3,379.5 199.4,379.4 201.3,379.8 C203.2,380.2 205.3,380.9 207.7,381.0 C210.1,381.1 213.0,381.7 215.6,380.6 C218.2,379.5 221.1,377.7 223.5,374.3 C225.9,370.9 228.0,364.1 229.8,360.1 C231.7,356.2 233.2,352.7 234.6,350.6 C236.0,348.5 236.9,347.4 238.5,347.7 C240.1,348.0 242.4,350.4 244.0,352.2 C245.6,354.0 246.9,355.6 248.0,358.5 C249.1,361.4 249.7,365.7 250.4,369.6 C251.1,373.6 251.4,378.2 252.0,382.2 C252.6,386.1 253.3,391.1 253.9,393.3 C254.5,395.5 254.5,394.9 255.5,395.5 C256.5,396.1 257.9,396.7 260.0,397.0 C262.1,397.3 266.7,397.4 268.0,397.5" stroke="#3e8e80" stroke-width="2.0" fill="none" stroke-linejoin="round" stroke-linecap="round" opacity="1.00"/>
<path d="M57.0,397.8 C60.8,397.8 73.7,398.0 80.0,397.6 C86.3,397.2 90.0,396.2 95.0,395.5 C100.0,394.8 104.2,393.8 110.0,393.4 C115.8,393.0 124.0,393.3 130.0,393.2 C136.0,393.1 141.1,393.4 145.8,393.0 C150.6,392.6 155.1,391.7 158.5,391.0 C161.9,390.3 164.0,389.0 166.4,388.9 C168.8,388.8 171.0,389.5 172.8,390.2 C174.7,390.9 174.6,392.6 177.5,393.2 C180.4,393.8 187.1,393.8 190.0,393.8 C192.9,393.8 192.6,393.8 195.0,393.3 C197.4,392.8 201.3,392.2 204.5,390.9 C207.7,389.6 211.1,387.8 214.0,385.4 C216.9,383.0 219.9,379.1 221.9,376.5 C223.9,373.9 224.6,372.0 226.0,370.0 C227.4,368.0 228.9,365.9 230.6,364.5 C232.3,363.1 234.7,362.8 236.3,361.3 C238.0,359.8 239.1,358.6 240.5,355.3 C241.9,352.0 243.0,347.4 244.6,341.5 C246.2,335.6 248.4,326.1 250.2,320.2 C252.0,314.3 253.8,310.3 255.3,305.9 C256.8,301.5 258.1,297.8 259.3,293.7 C260.5,289.6 261.5,285.4 262.4,281.5 C263.3,277.6 264.1,273.2 264.6,270.5 C265.2,267.8 265.4,266.4 265.7,265.0 C266.0,263.6 266.2,262.8 266.3,262.4" stroke="#6233e6" stroke-width="2.0" fill="none" stroke-linejoin="round" stroke-linecap="round" opacity="1.00"/>
<path d="M266.3,262.4 C266.4,263.0 266.9,263.1 267.1,266.0 C267.3,268.9 267.3,258.0 267.4,280.0 C267.4,302.0 267.4,378.3 267.4,398.0" stroke="#6233e6" stroke-width="2.0" fill="none" stroke-linejoin="round" stroke-linecap="round" opacity="1.00"/>
<path d="M410.0,396.3 C430.3,396.3 511.7,396.3 532.0,396.3" stroke="#a38c26" stroke-width="2.4" fill="none" stroke-linejoin="round" stroke-linecap="round" opacity="1.00"/>
<path d="M440.0,392.0 C441.9,391.8 447.4,391.3 451.4,390.7 C455.4,390.1 460.8,388.4 463.9,388.6 C467.0,388.8 467.5,391.1 470.2,391.7 C472.9,392.3 475.1,392.5 480.0,392.5 C484.9,392.5 492.1,391.5 499.5,391.7 C506.9,391.9 519.4,393.1 524.6,393.5 C529.9,393.9 529.9,393.9 531.0,394.0" stroke="#6233e6" stroke-width="2.0" fill="none" stroke-linejoin="round" stroke-linecap="round" stroke-dasharray="5 6" opacity="1.00"/>
<path d="M320.0,397.2 C322.9,396.8 332.5,395.3 337.6,394.5 C342.7,393.7 345.5,393.0 350.7,392.4 C355.9,391.8 363.4,391.1 368.9,390.9 C374.4,390.7 379.1,391.2 383.5,391.2 C387.9,391.2 390.4,391.0 395.0,391.1 C399.6,391.2 405.9,391.1 411.3,391.6 C416.7,392.1 422.2,394.0 427.6,394.3 C433.0,394.6 436.8,393.4 443.9,393.5 C451.0,393.6 455.3,394.6 470.0,395.0 C484.7,395.4 521.7,395.8 532.0,396.0" stroke="#a38c26" stroke-width="2.0" fill="none" stroke-linejoin="round" stroke-linecap="round" opacity="1.00"/>
<path d="M340.0,396.0 C342.7,395.2 350.8,392.4 356.2,391.3 C361.6,390.2 368.5,389.6 372.5,389.6 C376.5,389.6 376.2,391.0 380.0,391.5 C383.8,392.0 392.5,392.3 395.0,392.5" stroke="#5da030" stroke-width="1.8" fill="none" stroke-linejoin="round" stroke-linecap="round" opacity="1.00"/>
<path d="M320.0,396.5 C323.3,396.5 333.3,396.7 340.0,396.5 C346.7,396.3 353.3,396.1 360.0,395.5 C366.7,394.9 374.2,394.0 380.0,393.0 C385.8,392.0 391.1,391.1 395.0,389.4 C398.9,387.7 400.4,384.9 403.1,382.9 C405.8,380.9 408.6,378.5 411.3,377.2 C414.0,375.9 417.2,375.8 419.4,375.3 C421.6,374.8 422.4,375.6 424.3,374.0 C426.2,372.4 428.6,369.1 430.8,365.8 C433.0,362.5 435.4,357.8 437.3,354.4 C439.2,351.0 440.8,347.5 442.2,345.5 C443.6,343.5 444.8,342.9 446.0,342.2 C447.2,341.5 447.1,341.4 449.2,341.5 C451.3,341.6 455.4,341.7 458.5,342.7 C461.6,343.7 464.6,345.2 467.7,347.3 C470.8,349.4 474.6,353.4 476.9,355.4 C479.2,357.4 479.9,360.3 481.5,359.5 C483.1,358.7 484.6,354.2 486.2,350.8 C487.8,347.4 489.5,341.3 490.8,339.2 C492.1,337.1 492.9,337.3 493.9,338.2 C494.9,339.1 495.7,340.2 496.8,344.5 C497.9,348.8 499.6,358.6 500.7,364.2 C501.8,369.8 502.7,374.8 503.7,378.0 C504.7,381.2 505.8,381.5 506.6,383.5 C507.4,385.5 507.9,389.0 508.6,390.2 C509.3,391.4 510.0,390.8 511.0,390.8 C512.0,390.8 513.6,389.4 514.5,390.2 C515.4,391.0 513.6,394.4 516.5,395.5 C519.4,396.6 529.4,396.8 532.0,397.0" stroke="#8e98ea" stroke-width="1.8" fill="none" stroke-linejoin="round" stroke-linecap="round" opacity="1.00"/>
<path d="M320.0,398.0 C322.1,397.7 328.3,397.2 332.5,396.0 C336.7,394.8 341.4,392.1 345.3,390.7 C349.2,389.3 352.6,388.2 356.2,387.4 C359.8,386.6 364.3,386.4 367.1,385.8 C369.9,385.2 371.4,383.1 373.1,383.5 C374.9,383.9 375.9,386.4 377.6,388.0 C379.3,389.6 381.3,392.2 383.5,393.1 C385.7,394.0 388.3,393.4 390.7,393.1 C393.1,392.8 394.6,392.1 398.0,391.5 C401.4,390.9 407.7,390.7 411.3,389.4 C414.9,388.1 417.0,386.3 419.4,383.7 C421.8,381.1 424.1,376.9 425.9,374.0 C427.7,371.1 428.6,368.6 430.0,366.6 C431.4,364.6 432.9,362.6 434.1,362.2 C435.3,361.8 436.2,363.3 437.3,364.2 C438.4,365.1 438.6,366.1 440.6,367.5 C442.6,368.9 445.4,371.2 449.2,372.7 C452.9,374.1 458.9,375.6 463.1,376.2 C467.3,376.8 471.5,377.4 474.6,376.2 C477.7,375.0 479.6,373.0 481.5,369.2 C483.4,365.4 484.6,359.2 486.2,353.1 C487.8,347.0 489.5,337.7 490.8,332.3 C492.1,326.9 493.2,323.2 494.2,320.8 C495.2,318.4 495.7,317.3 496.6,318.0 C497.5,318.7 499.0,321.0 499.8,324.8 C500.6,328.6 500.9,334.4 501.7,340.6 C502.5,346.8 503.7,357.9 504.7,362.2 C505.7,366.5 506.8,365.7 507.6,366.5 C508.4,367.3 508.8,364.9 509.6,367.1 C510.4,369.3 511.7,376.1 512.5,379.9 C513.3,383.7 514.0,387.5 514.5,389.8 C515.0,392.1 514.6,392.3 515.5,393.7 C516.4,395.1 517.2,397.2 520.0,398.0 C522.8,398.8 530.0,398.2 532.0,398.3" stroke="#3e8e80" stroke-width="1.8" fill="none" stroke-linejoin="round" stroke-linecap="round" opacity="1.00"/>
<path d="M320.0,398.5 C323.3,398.1 332.9,396.9 339.8,396.2 C346.7,395.5 356.2,395.0 361.6,394.5 C367.1,394.0 369.9,393.4 372.5,393.4 C375.1,393.4 375.6,394.1 376.9,394.5 C378.1,394.9 376.1,395.6 380.0,396.0 C383.9,396.4 393.4,397.0 400.0,397.0 C406.6,397.0 414.8,396.7 419.4,396.0 C424.0,395.3 425.2,393.8 427.6,392.7 C430.1,391.6 432.0,390.2 434.1,389.4 C436.2,388.6 438.5,388.5 440.3,387.7 C442.1,386.9 443.5,386.0 445.0,384.6 C446.5,383.2 447.5,381.4 449.2,379.6 C450.9,377.8 453.6,376.7 455.0,373.8 C456.4,370.9 456.7,366.2 457.3,362.3 C457.9,358.4 458.0,349.2 458.5,350.3 C459.0,351.4 459.3,364.3 460.1,369.2 C460.9,374.1 462.0,377.5 463.1,379.6 C464.2,381.7 465.6,382.1 466.5,381.9 C467.4,381.7 468.0,377.2 468.8,378.5 C469.6,379.8 470.2,388.4 471.2,389.5 C472.2,390.6 472.9,388.0 474.6,385.4 C476.3,382.8 479.2,378.4 481.5,373.8 C483.8,369.2 486.2,363.9 488.5,357.7 C490.8,351.5 493.3,343.7 495.4,336.9 C497.4,330.1 499.4,321.9 500.8,317.0 C502.2,312.1 502.9,309.8 504.0,307.5 C505.1,305.2 506.1,304.8 507.2,303.5 C508.2,302.2 509.2,301.2 510.3,299.6 C511.4,298.0 512.6,294.0 513.5,294.0 C514.4,294.0 515.2,296.8 515.9,299.6 C516.6,302.4 516.9,306.6 517.5,310.7 C518.1,314.8 519.0,323.1 519.8,324.1 C520.6,325.2 521.3,321.4 522.2,317.0 C523.1,312.6 524.4,303.7 525.4,298.0 C526.4,292.3 527.7,284.6 528.5,283.0 C529.3,281.4 529.6,284.0 530.1,288.5 C530.6,293.0 531.2,301.4 531.5,310.0 C531.8,318.6 531.8,325.2 531.8,340.0 C531.8,354.8 531.8,389.2 531.8,399.0" stroke="#6233e6" stroke-width="1.8" fill="none" stroke-linejoin="round" stroke-linecap="round" opacity="1.00"/>
</svg></body></html>
